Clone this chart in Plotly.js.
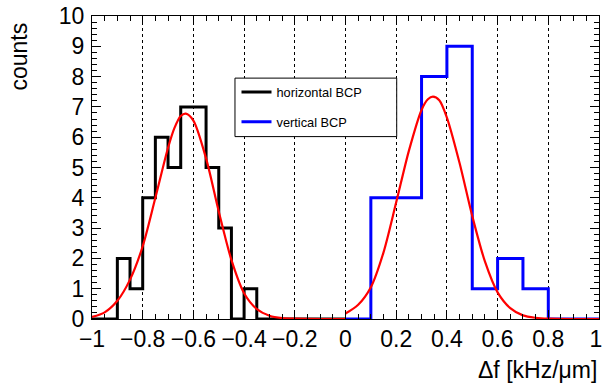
<!DOCTYPE html>
<html><head><meta charset="utf-8">
<script src="https://cdn.plot.ly/plotly-3.0.1.min.js"></script>
<style>html,body{margin:0;padding:0;background:#fff}#chart{width:603px;height:387px}</style>
</head><body><div id="chart"></div>
<script>
// ---- data ----
const horizontalBinEdges = [-1, -0.95, -0.9, -0.85, -0.8, -0.75, -0.7, -0.65, -0.6, -0.55, -0.5,
                            -0.45, -0.4, -0.35, -0.3, -0.25, -0.2, -0.15, -0.1, -0.05, 0];
const horizontalCounts = [0, 0, 2, 1, 4, 6, 5, 7, 7, 5, 3, 0, 1, 0, 0, 0, 0, 0, 0, 0];
const verticalBinEdges = [0, 0.1, 0.2, 0.3, 0.4, 0.5, 0.6, 0.7, 0.8, 0.9, 1];
const verticalCounts = [0, 4, 4, 8, 9, 1, 2, 1, 0, 0];

const horizontalFitX = [-1, -0.95, -0.9, -0.85, -0.8, -0.75, -0.7, -0.675, -0.65, -0.63, -0.6, -0.55,
                        -0.5, -0.45, -0.4, -0.35, -0.3, -0.25, -0.2, -0.1, 0];
const horizontalFitY = [0.07, 0.22, 0.6, 1.3, 2.4, 4.0, 5.65, 6.3, 6.7, 6.78, 6.55, 5.3,
                        3.55, 1.95, 0.85, 0.33, 0.11, 0.03, 0.01, 0, 0];
const verticalFitX = [0, 0.05, 0.1, 0.15, 0.2, 0.25, 0.3, 0.325, 0.345, 0.37, 0.4, 0.45,
                      0.5, 0.55, 0.6, 0.65, 0.7, 0.75, 0.8, 0.9, 1];
const verticalFitY = [0.18, 0.47, 1.05, 2.2, 3.85, 5.55, 6.9, 7.25, 7.34, 7.22, 6.65, 5.15,
                      3.4, 1.9, 0.88, 0.36, 0.12, 0.04, 0.01, 0, 0];

const seriesNames = ['horizontal BCP', 'vertical BCP'];
const xTickValues = [-1, -0.8, -0.6, -0.4, -0.2, 0, 0.2, 0.4, 0.6, 0.8, 1];
const xTickLabels = ['\u22121', '\u22120.8', '\u22120.6', '\u22120.4', '\u22120.2', '0', '0.2', '0.4', '0.6', '0.8', '1\u00a0'];
const yTickValues = [0, 1, 2, 3, 4, 5, 6, 7, 8, 9, 10];
const xTitle = '\u0394f [kHz/\u03bcm]';
const yTitle = 'counts';

function stepY(c) { return c.concat([c[c.length - 1]]); }

const FONT = '"Liberation Sans", Arial, Helvetica, sans-serif';

const traces = [
  { x: horizontalBinEdges, y: stepY(horizontalCounts), type: 'scatter', mode: 'lines',
    line: { shape: 'hv', color: '#000000', width: 3 }, name: seriesNames[0], legendgroup: 'a' },
  { x: verticalBinEdges, y: stepY(verticalCounts), type: 'scatter', mode: 'lines',
    line: { shape: 'hv', color: '#0000ff', width: 3 }, name: seriesNames[1], legendgroup: 'b' },
  { x: horizontalFitX, y: horizontalFitY, type: 'scatter', mode: 'lines',
    line: { shape: 'spline', smoothing: 0.8, color: '#ff0000', width: 2.2 }, showlegend: false },
  { x: verticalFitX, y: verticalFitY, type: 'scatter', mode: 'lines',
    line: { shape: 'spline', smoothing: 0.8, color: '#ff0000', width: 2.2 }, showlegend: false }
];

const layout = {
  width: 603, height: 387,
  margin: { l: 92, r: 4, t: 16, b: 68, pad: 0 },
  paper_bgcolor: '#ffffff', plot_bgcolor: '#ffffff',
  font: { family: FONT, color: '#000000', size: 23 },
  showlegend: true,
  legend: {
    x: 0.285, y: 0.798, xanchor: 'left', yanchor: 'top',
    bgcolor: 'rgba(0,0,0,0)', borderwidth: 0,
    font: { family: FONT, size: 12.8, color: '#000' },
    traceorder: 'grouped', tracegroupgap: 10
  },
  xaxis: {
    range: [-1, 1.00001], tickmode: 'array', tickvals: xTickValues, ticktext: xTickLabels,
    ticks: 'inside', ticklen: 9, tickwidth: 1, tickcolor: '#000',
    showline: true, linecolor: '#000', linewidth: 1, mirror: 'ticks',
    showgrid: true, gridcolor: '#000', griddash: 'dot', gridwidth: 1,
    zeroline: false, tickfont: { size: 23 }, ticklabelstandoff: -1, ticklabeloverflow: 'allow',
    minor: { dtick: 0.05, tick0: 0, ticks: 'inside', ticklen: 5, tickcolor: '#000', showgrid: false },
    fixedrange: true
  },
  yaxis: {
    range: [0, 10], tickmode: 'array', tickvals: yTickValues,
    ticks: 'inside', ticklen: 9, tickwidth: 1, tickcolor: '#000',
    showline: true, linecolor: '#000', linewidth: 1, mirror: 'ticks',
    showgrid: false, zeroline: false, tickfont: { size: 23 }, ticklabelstandoff: 2,
    minor: { dtick: 0.2, tick0: 0, ticks: 'inside', ticklen: 5, tickcolor: '#000', showgrid: false },
    fixedrange: true
  },
  shapes: [
    { type: 'rect', xref: 'paper', yref: 'paper', x0: 0.282, x1: 0.601, y0: 0.602, y1: 0.795,
      line: { color: '#000', width: 1 }, fillcolor: '#ffffff', layer: 'above' }
  ],
  annotations: [
    { text: xTitle, xref: 'paper', yref: 'paper', x: 1.0, y: -0.168, xanchor: 'right', yanchor: 'middle',
      showarrow: false, font: { family: FONT, size: 23 } },
    { text: yTitle, xref: 'paper', yref: 'paper', x: -0.144, y: 0.985, xanchor: 'center', yanchor: 'top',
      textangle: -90, showarrow: false, font: { family: FONT, size: 23 } }
  ]
};

Plotly.newPlot('chart', traces, layout, { staticPlot: true, displayModeBar: false });
</script>
</body></html>
